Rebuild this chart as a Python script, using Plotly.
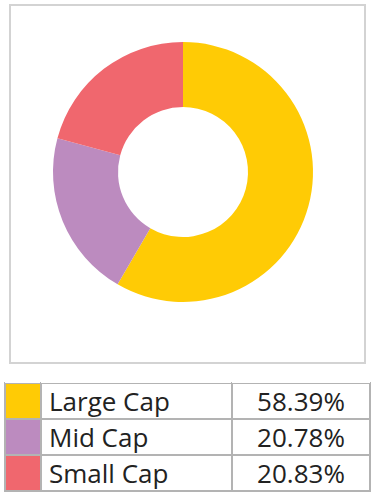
import plotly.graph_objects as go

categories = ["Large Cap", "Mid Cap", "Small Cap"]
values = [58.39, 20.78, 20.83]
value_labels = ["58.39%", "20.78%", "20.83%"]
colors = ["#FFCB05", "#BC8BBF", "#F0676E"]

W, H = 375, 494
HDR = 1  # header row height (hidden)

fig = go.Figure()

fig.add_trace(go.Pie(
    labels=categories,
    values=values,
    hole=0.5,
    sort=False,
    direction="clockwise",
    rotation=0,
    marker=dict(colors=colors, line=dict(width=0)),
    textinfo="none",
    hoverinfo="label+percent",
    showlegend=False,
    domain=dict(x=[53 / W, 313 / W], y=[1 - 302 / H, 1 - 42 / H]),
))

fig.add_trace(go.Table(
    domain=dict(x=[5 / W, 370 / W], y=[1 - 492 / H, 1 - (383 - HDR) / H]),
    columnwidth=[36, 191, 138],
    header=dict(values=["", "", ""], height=HDR,
                fill=dict(color="white"), line=dict(color="white", width=0)),
    cells=dict(
        values=[["", "", ""], categories, value_labels],
        fill=dict(color=[colors, ["white"] * 3, ["white"] * 3]),
        line=dict(color="#b3b3b3", width=1.5),
        align=["left", "left", "center"],
        font=dict(family="Open Sans", size=26, color="#222222"),
        height=36,
    ),
))

fig.add_shape(type="rect", xref="paper", yref="paper",
              x0=10 / W, x1=365 / W, y0=1 - 363 / H, y1=1 - 5 / H,
              line=dict(color="#d3d3d3", width=2), layer="below")

fig.update_layout(
    width=W, height=H,
    margin=dict(l=0, r=0, t=0, b=0),
    paper_bgcolor="white",
    plot_bgcolor="white",
)

fig.write_html("out.html", config={"displayModeBar": False},
               post_script="document.body.style.margin='0';")
